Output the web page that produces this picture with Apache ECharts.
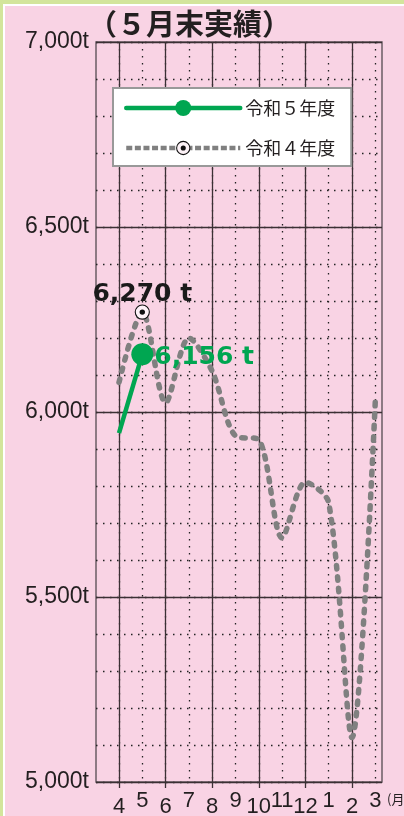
<!DOCTYPE html>
<html lang="ja">
<head>
  <meta charset="UTF-8">
  <title>5月末実績</title>
  <style>
    body { margin: 0; background: #f9d3e4; }
    #wrap { position: relative; width: 404px; height: 816px; overflow: hidden; }
    #chart { position: absolute; left: 0; top: 0; width: 404px; height: 816px; }
    /* 外枠の緑と白の帯 */
    .band { position: absolute; pointer-events: none; }
    #bandTop { left: 0; top: 0; width: 404px; height: 4px; background: #d3e59c; }
    #lineTop { left: 3px; top: 4px; width: 401px; height: 2px; background: #fff; }
    #bandLeft { left: 0; top: 0; width: 3px; height: 816px; background: #d3e59c; }
    #lineLeft { left: 3px; top: 4px; width: 2px; height: 812px; background: #fff; }
  </style>
  <script src="https://cdn.jsdelivr.net/npm/echarts@6/dist/echarts.min.js"></script>
</head>
<body>
<div id="wrap">
  <div id="chart"></div>
  <div class="band" id="bandTop"></div>
  <div class="band" id="lineTop"></div>
  <div class="band" id="bandLeft"></div>
  <div class="band" id="lineLeft"></div>
</div>

<script>
  const months = ['4', '5', '6', '7', '8', '9', '10', '11', '12', '1', '2', '3'];
  const r5Values = [5943, 6156];   // 令和５年度
  const r4Values = [6080, 6270, 6025, 6200, 6110, 5935, 5925, 5660, 5810, 5755, 5120, 6030]; // 令和４年度
  const yTicks = [5000, 5500, 6000, 6500, 7000];
  const markIndex = 1; // 5月

  const GREEN = '#00a651';
  const GRAY = '#808080';
  const INK = '#231f20';
  const SOLID = '#3b3034';

  const ringSvg = "<svg xmlns='http://www.w3.org/2000/svg' width='20' height='20'>" +
    "<circle cx='10' cy='10' r='8.3' fill='#fdf2f7' stroke='#111' stroke-width='1.3'/>" +
    "<circle cx='10' cy='10' r='3.2' fill='#111'/></svg>";
  const ringSymbol = 'image://data:image/svg+xml;charset=utf-8,' + encodeURIComponent(ringSvg);

  const fmtT = v => v.toLocaleString('en-US') + ' t';

  const chart = echarts.init(document.getElementById('chart'));

  const dotted = { type: [1.5, 5.5], color: '#222', width: 1.3 };
  const gridBox = { top: 42, bottom: 34, outerBoundsMode: 'none', containLabel: false };

  chart.setOption({
    animation: false,
    graphic: [
      {
        type: 'text', left: 88, top: 9,
        style: { text: '（５月末実績）', font: 'bold 29px "Noto Sans CJK JP"', fill: INK }
      },
      {
        type: 'text', left: 387, top: 793,
        style: { text: '(月)', font: '13px "Noto Sans CJK JP"', fill: INK }
      }
    ],
    legend: {
      left: 113, top: 88, orient: 'vertical',
      backgroundColor: '#fff', borderColor: '#999', borderWidth: 2,
      padding: [11, 16, 9, 11],
      itemWidth: 114, itemHeight: 20, itemGap: 22,
      textStyle: { fontSize: 18, color: INK, fontFamily: 'Noto Sans CJK JP' },
      data: [
        { name: '令和５年度', lineStyle: { width: 4.5, type: 'solid', cap: 'round' } },
        { name: '令和４年度', lineStyle: { width: 4.5, type: [6, 2.6], cap: 'butt' } }
      ]
    },
    grid: [
      // 外枠・横罫線
      { left: 96, right: 22, ...gridBox, show: true, borderColor: '#6b5d64', borderWidth: 1.5, backgroundColor: 'transparent' },
      // 月ごとの点線・データ
      { left: 119, right: 404 - 375.3, ...gridBox },
      // 2か月ごとの実線と目盛
      { left: 119, right: 404 - 352, ...gridBox }
    ],
    xAxis: [
      { gridIndex: 0, type: 'value', min: -1, max: 11.25, show: false },
      {
        gridIndex: 1, type: 'value', min: 0, max: 11, interval: 1,
        axisLine: { show: false }, axisTick: { show: false },
        splitLine: { show: true, lineStyle: dotted },
        axisLabel: {
          margin: 8, color: INK, fontSize: 22, fontFamily: 'Liberation Sans',
          formatter: v => {
            const i = Math.round(v);
            return i % 2 === 0 ? '{lo|' + months[i] + '}' : '{hi|' + months[i] + '}';
          },
          rich: {
            lo: { fontSize: 22, fontFamily: 'Liberation Sans', color: INK, padding: [6, 0, 0, 0] },
            hi: { fontSize: 22, fontFamily: 'Liberation Sans', color: INK, padding: [0, 0, 6, 0] }
          }
        }
      },
      {
        gridIndex: 2, type: 'value', min: 0, max: 10, interval: 2,
        axisLine: { show: false }, axisLabel: { show: false },
        axisTick: { show: true, length: 6, lineStyle: { color: SOLID, width: 1.3 } },
        splitLine: { show: true, lineStyle: { color: SOLID, width: 1.3 } }
      }
    ],
    yAxis: [
      {
        gridIndex: 0, type: 'value', min: 5000, max: 7000, interval: 100,
        axisLine: { show: false }, axisTick: { show: false }, axisLabel: { show: false },
        splitLine: { show: true, lineStyle: dotted }
      },
      {
        gridIndex: 0, type: 'value', position: 'left',
        min: yTicks[0], max: yTicks[yTicks.length - 1], interval: 500,
        axisLine: { show: false }, axisTick: { show: false },
        splitLine: { show: true, lineStyle: { color: SOLID, width: 1.3 } },
        axisLabel: {
          margin: 7, color: INK, fontSize: 23, fontFamily: 'Liberation Sans',
          formatter: v => v.toLocaleString('en-US') + 't'
        }
      },
      { gridIndex: 1, type: 'value', min: 5000, max: 7000, show: false },
      { gridIndex: 2, type: 'value', min: 5000, max: 7000, show: false }
    ],
    series: [
      {
        name: '令和４年度',
        type: 'line',
        xAxisIndex: 1, yAxisIndex: 2,
        smooth: 0.3,
        clip: false,
        symbol: ringSymbol,
        symbolSize: 17,
        showSymbol: true,
        lineStyle: { color: GRAY, width: 5.5, type: [3.5, 8], cap: 'round' },
        itemStyle: { color: GRAY },
        label: {
          show: false, position: 'top', distance: 0, offset: [0, 3],
          fontSize: 25, fontWeight: 'bold', fontFamily: 'DejaVu Sans', color: '#1a1a1a',
          formatter: p => fmtT(p.value[1])
        },
        data: r4Values.map((v, i) => i === markIndex
          ? { value: [i, v], label: { show: true } }
          : { value: [i, v], symbol: 'none' })
      },
      {
        name: '令和５年度',
        type: 'line',
        xAxisIndex: 1, yAxisIndex: 2,
        clip: false,
        symbol: 'circle',
        symbolSize: 22,
        showSymbol: true,
        lineStyle: { color: GREEN, width: 4.5 },
        itemStyle: { color: GREEN },
        label: {
          show: false, position: 'right', distance: 1, offset: [0, 3],
          fontSize: 25, fontWeight: 'bold', fontFamily: 'DejaVu Sans', color: GREEN,
          formatter: p => fmtT(p.value[1])
        },
        data: r5Values.map((v, i) => i === markIndex
          ? { value: [i, v], label: { show: true } }
          : { value: [i, v], symbol: 'none' })
      }
    ]
  });
</script>
</body>
</html>
